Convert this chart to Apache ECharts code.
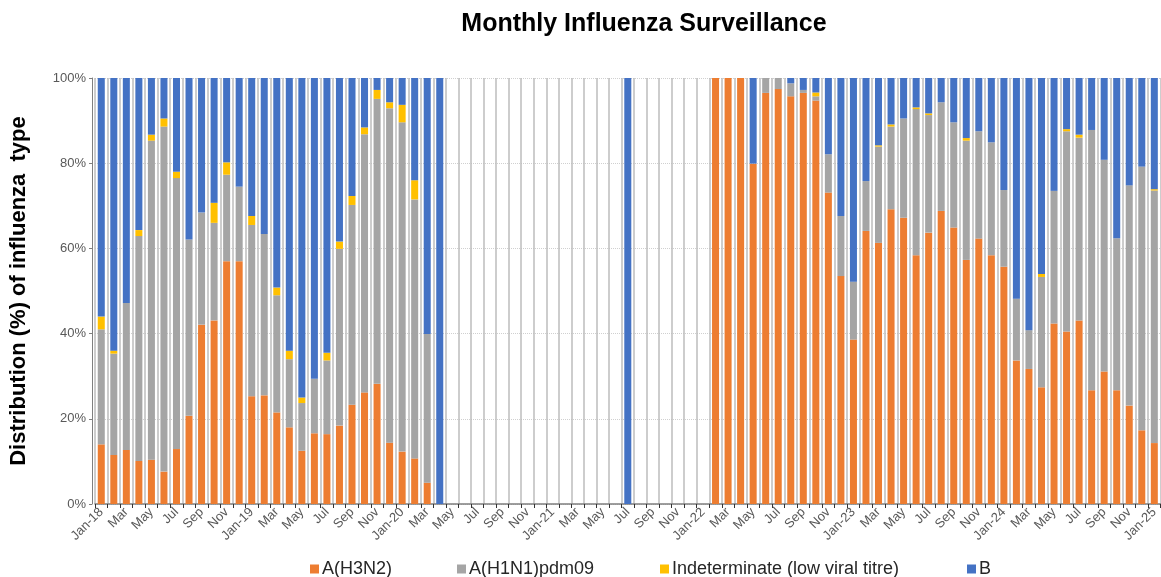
<!DOCTYPE html>
<html>
<head>
<meta charset="utf-8">
<script src="https://cdn.jsdelivr.net/npm/echarts@6/dist/echarts.min.js"></script>
<style>
html,body{margin:0;padding:0;background:#fff;}
#chart{width:1161px;height:577px;}
</style>
</head>
<body>
<div id="chart"></div>
<script>
const categories = [
 'Jan-18','Feb','Mar','Apr','May','Jun','Jul','Aug','Sep','Oct','Nov','Dec',
 'Jan-19','Feb','Mar','Apr','May','Jun','Jul','Aug','Sep','Oct','Nov','Dec',
 'Jan-20','Feb','Mar','Apr','May','Jun','Jul','Aug','Sep','Oct','Nov','Dec',
 'Jan-21','Feb','Mar','Apr','May','Jun','Jul','Aug','Sep','Oct','Nov','Dec',
 'Jan-22','Feb','Mar','Apr','May','Jun','Jul','Aug','Sep','Oct','Nov','Dec',
 'Jan-23','Feb','Mar','Apr','May','Jun','Jul','Aug','Sep','Oct','Nov','Dec',
 'Jan-24','Feb','Mar','Apr','May','Jun','Jul','Aug','Sep','Oct','Nov','Dec',
 'Jan-25'
];
const _ = null;
const h3n2 = [
 14,11.5,12.7,10.1,10.4,7.6,12.9,20.7,42.1,43.1,57,57,
 25.3,25.5,21.5,18,12.5,16.6,16.4,18.4,23.3,26.2,28.2,14.4,
 12.3,10.7,5,0,_,_,_,_,_,_,_,_,
 _,_,_,_,_,_,0,_,_,_,_,_,
 _,100,100,100,79.9,96.5,97.4,95.7,96.5,94.7,73.1,53.5,
 38.6,64.1,61.3,69.2,67.2,58.4,63.7,68.8,64.9,57.3,62.3,58.4,
 55.7,33.7,31.7,27.4,42.4,40.5,43.1,26.7,31.1,26.7,23.1,17.3,
 14.3
];
const h1n1 = [
 27,23.8,34.5,52.8,74.9,81,63.6,41.4,26.3,22.9,20.3,17.5,
 40.2,37.9,27.5,16,11.2,12.8,17.3,41.5,46.9,60.6,66.9,78.5,
 77.3,60.8,34.9,0,_,_,_,_,_,_,_,_,
 _,_,_,_,_,_,0,_,_,_,_,_,
 _,0,0,0,0,3.5,2.6,3.05,0.7,1.0,9,14.1,
 13.6,11.7,22.6,19.4,23.3,34.3,27.6,25.5,24.7,28,25.2,26.5,
 18,14.5,9.1,25.9,31.1,47,42.9,61.1,49.7,35.7,51.7,61.9,
 59.3
];
const indeterminate = [
 3,0.7,0,1.4,1.4,1.9,1.5,0,0,4.7,2.9,0,
 2.1,0,1.8,2,1.3,0,1.8,1.7,2.1,1.6,2.1,1.4,
 4.1,4.5,0,0,_,_,_,_,_,_,_,_,
 _,_,_,_,_,_,0,_,_,_,_,_,
 _,0,0,0,0,0,0,0,0,0.9,0,0,
 0,0,0.3,0.5,0,0.4,0.4,0,0,0.6,0,0,
 0,0,0,0.7,0,0.5,0.7,0,0,0,0,0,
 0.3
];
const fluB = [
 56,64,52.8,35.7,13.3,9.5,22,37.9,31.6,29.3,19.8,25.5,
 32.4,36.6,49.2,64,75,70.6,64.5,38.4,27.7,11.6,2.8,5.7,
 6.3,24,60.1,100,_,_,_,_,_,_,_,_,
 _,_,_,_,_,_,100,_,_,_,_,_,
 _,0,0,0,20.1,0,0,1.25,2.8,3.4,17.9,32.4,
 47.8,24.2,15.8,10.9,9.5,6.9,8.3,5.7,10.4,14.1,12.5,15.1,
 26.3,51.8,59.2,46,26.5,12,13.3,12.2,19.2,37.6,25.2,20.8,
 26.1
];
const seriesNames = ['A(H3N2)','A(H1N1)pdm09','Indeterminate (low viral titre)','B'];
const seriesColors = ['#ED7D31','#A5A5A5','#FFC000','#4472C4'];
const seriesData = [h3n2, h1n1, indeterminate, fluB];
const yTicks = [0,20,40,60,80,100];

const chart = echarts.init(document.getElementById('chart'));
const font = 'Liberation Sans, Arial, sans-serif';
const legendLefts = [310, 457, 660, 967];

chart.setOption({
  animation: false,
  textStyle: {fontFamily: font},
  title: {
    text: 'Monthly Influenza Surveillance',
    left: 639, top: 7, textAlign: 'center',
    textStyle: {fontFamily: font, fontSize: 25, fontWeight: 'bold', color: '#000'}
  },
  legend: seriesNames.map((n, i) => ({
    data: [n], left: legendLefts[i], top: 560, itemWidth: 9, itemHeight: 9, itemGap: 4,
    icon: 'rect', padding: 0,
    textStyle: {fontFamily: font, fontSize: 18, color: '#262626', padding: [0, 0, 0, -2]}
  })),
  grid: {left: 91, width: 1071, top: 78, bottom: 73, containLabel: false},
  xAxis: {
    type: 'category',
    data: categories,
    axisLine: {lineStyle: {color: '#7f7f7f', width: 1.5}},
    axisTick: {show: true, interval: 0, length: 4, lineStyle: {color: '#333'}},
    splitLine: {show: true, interval: 0, lineStyle: {color: '#bdbdbd', width: 1.5}},
    axisLabel: {interval: 1, rotate: 45, fontSize: 13, color: '#595959', fontFamily: font, margin: 6}
  },
  yAxis: {
    type: 'value', min: 0, max: 100, interval: 20, offset: 3,
    name: 'Distribution (%) of influenza  type',
    nameLocation: 'middle', nameGap: 62,
    nameTextStyle: {fontFamily: font, fontSize: 22, fontWeight: 'bold', color: '#000'},
    axisLine: {show: true, lineStyle: {color: '#7f7f7f', width: 1}},
    axisTick: {show: true, length: 3, lineStyle: {color: '#7f7f7f'}},
    axisLabel: {formatter: v => yTicks.includes(v) ? v + '%' : '', fontSize: 13, color: '#595959', fontFamily: font, margin: 6},
    splitLine: {lineStyle: {color: '#d0d0d0', type: 'dotted', width: 1}}
  },
  series: seriesNames.map((n, i) => ({
    name: n, type: 'bar', stack: 'total', data: seriesData[i],
    itemStyle: {color: seriesColors[i]},
    barCategoryGap: '44%'
  }))
});
</script>
</body>
</html>
